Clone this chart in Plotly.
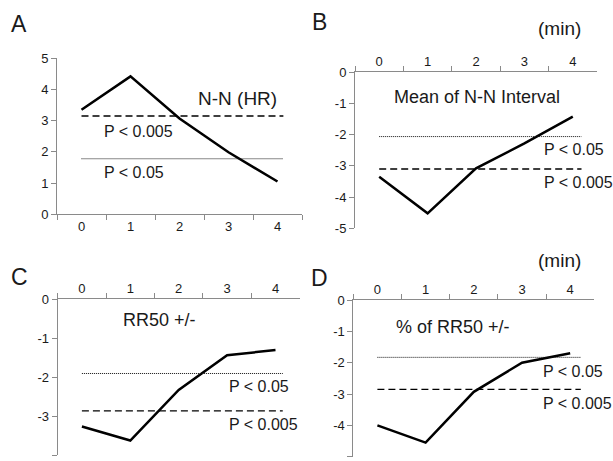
import plotly.graph_objects as go

# ---- data ----
minutes = ["0", "1", "2", "3", "4"]

nn_hr = [3.35, 4.42, 3.07, 1.99, 1.05]
mean_nn = [-3.35, -4.52, -3.08, -2.28, -1.42]
rr50 = [-3.27, -3.63, -2.33, -1.44, -1.31]
pct_rr50 = [-4.0, -4.55, -2.93, -2.0, -1.70]

# significance thresholds (p<0.005, p<0.05) per panel
thr_005_a, thr_05_a = 3.15, 1.78
thr_005_b, thr_05_b = -3.10, -2.06
thr_005_c, thr_05_c = -2.87, -1.91
thr_005_d, thr_05_d = -2.85, -1.83

panel_titles = ["N-N (HR)", "Mean of N-N Interval", "RR50 +/-", "% of RR50 +/-"]
ytick_vals = [[0, 1, 2, 3, 4, 5], [0, -1, -2, -3, -4, -5], [0, -1, -2, -3, -4], [0, -1, -2, -3, -4, -5]]
ytick_text = [["0", "1", "2", "3", "4", "5"], ["0", "-1", "-2", "-3", "-4", "-5"],
              ["0", "-1", "-2", "-3", "-4"], ["0", "-1", "-2", "-3", "-4", "-5"]]
y_ranges = [[0, 5], [-5, 0], [-4, 0], [-5, 0]]

FONT = "Arial, 'Liberation Sans', sans-serif"
AXC = "#8a8a8a"

fig = go.Figure()

# panel geometry (paper domains)
doms = {
    1: dict(x=[57 / 613, 302 / 613], y=[1 - 214.3 / 461, 1 - 58.3 / 461], side="bottom"),
    2: dict(x=[355 / 613, 597 / 613], y=[1 - 228.3 / 461, 1 - 72.3 / 461], side="top"),
    3: dict(x=[57.7 / 613, 299.7 / 613], y=[1 - 455 / 461, 1 - 299 / 461], side="top"),
    4: dict(x=[353.3 / 613, 594.3 / 613], y=[1 - 456.7 / 461, 1 - 300 / 461], side="top"),
}
series = [nn_hr, mean_nn, rr50, pct_rr50]

for i in range(1, 5):
    sx = "" if i == 1 else str(i)
    fig.add_trace(go.Scatter(
        x=minutes, y=series[i - 1], mode="lines",
        line=dict(color="black", width=2.5),
        xaxis="x" + sx, yaxis="y" + sx, showlegend=False, hoverinfo="skip"))
    d = doms[i]
    fig.update_layout(**{
        "xaxis" + sx: dict(
            domain=d["x"], anchor="y" + sx, side=d["side"], type="category",
            categoryorder="array", categoryarray=minutes,
            range=[-0.5, 4.5], tickson="boundaries", ticks="outside", ticklen=5,
            tickcolor=AXC, showline=True, linecolor=AXC, linewidth=1,
            showgrid=False, zeroline=False, fixedrange=True, automargin=False,
            tickfont=dict(family=FONT, size=13, color="#1a1a1a")),
        "yaxis" + sx: dict(
            domain=d["y"], anchor="x" + sx, range=y_ranges[i - 1],
            tickmode="array", tickvals=ytick_vals[i - 1], ticktext=ytick_text[i - 1],
            ticks="outside", ticklen=5, automargin=False,
            tickcolor=AXC, showline=True, linecolor=AXC, linewidth=1,
            showgrid=False, zeroline=False, fixedrange=True,
            tickfont=dict(family=FONT, size=13, color="#1a1a1a")),
    })

# threshold lines
thr = [(thr_005_a, thr_05_a, 4.12), (thr_005_b, thr_05_b, 4.18),
       (thr_005_c, thr_05_c, 4.15), (thr_005_d, thr_05_d, 4.22)]
shapes = []
for i, (t005, t05, xend) in enumerate(thr, start=1):
    sx = "" if i == 1 else str(i)
    shapes.append(dict(type="line", xref="x" + sx, yref="y" + sx, x0=0, x1=xend,
                       y0=t005, y1=t005, line=dict(color="black", width=1.3, dash="7px,4px")))
    shapes.append(dict(type="line", xref="x" + sx, yref="y" + sx, x0=0, x1=xend,
                       y0=t05, y1=t05, line=dict(color="#111111", width=1, dash="1px,1px")))
fig.update_layout(shapes=shapes)

ann = []
def t(text, x, y, xr, yr, size, xanchor="center"):
    ann.append(dict(text=text, x=x, y=y, xref=xr, yref=yr, showarrow=False,
                    xanchor=xanchor, yanchor="middle", borderpad=0,
                    font=dict(family=FONT, size=size, color="#1a1a1a")))

# panel letters and (min)
t("A", 0.0318, 0.949, "paper", "paper", 23)
t("B", 0.522, 0.952, "paper", "paper", 23)
t("C", 0.0318, 0.399, "paper", "paper", 23)
t("D", 0.522, 0.397, "paper", "paper", 23)
t("(min)", 0.912, 0.939, "paper", "paper", 19)
t("(min)", 0.9135, 0.436, "paper", "paper", 19)

# panel A
t(panel_titles[0], 4.0, 3.72, "x", "y", 19, "right")
t("P &lt; 0.005", 0.44, 2.67, "x", "y", 16, "left")
t("P &lt; 0.05", 0.44, 1.33, "x", "y", 16, "left")
# panel B
t(panel_titles[1], 2.02, -0.80, "x2", "y2", 18)
t("P &lt; 0.05", 3.38, -2.49, "x2", "y2", 16, "left")
t("P &lt; 0.005", 3.38, -3.53, "x2", "y2", 16, "left")
# panel C
t(panel_titles[2], 1.61, -0.54, "x3", "y3", 18)
t("P &lt; 0.05", 3.02, -2.25, "x3", "y3", 16, "left")
t("P &lt; 0.005", 3.02, -3.23, "x3", "y3", 16, "left")
# panel D
t(panel_titles[3], 1.56, -0.85, "x4", "y4", 18)
t("P &lt; 0.05", 3.41, -2.29, "x4", "y4", 16, "left")
t("P &lt; 0.005", 3.41, -3.30, "x4", "y4", 16, "left")

fig.update_layout(
    annotations=ann,
    width=613, height=461,
    margin=dict(l=0, r=0, t=0, b=0, pad=0, autoexpand=False),
    paper_bgcolor="white", plot_bgcolor="white",
    font=dict(family=FONT),
)

page_css = (
    "var h=document.documentElement,b=document.body;"
    "h.style.margin='0';h.style.padding='0';h.style.overflow='hidden';h.style.height='461px';"
    "b.style.margin='0';b.style.padding='0';b.style.overflow='hidden';b.style.height='461px';"
)
fig.write_html("out.html", config={"displayModeBar": False}, post_script=page_css)
